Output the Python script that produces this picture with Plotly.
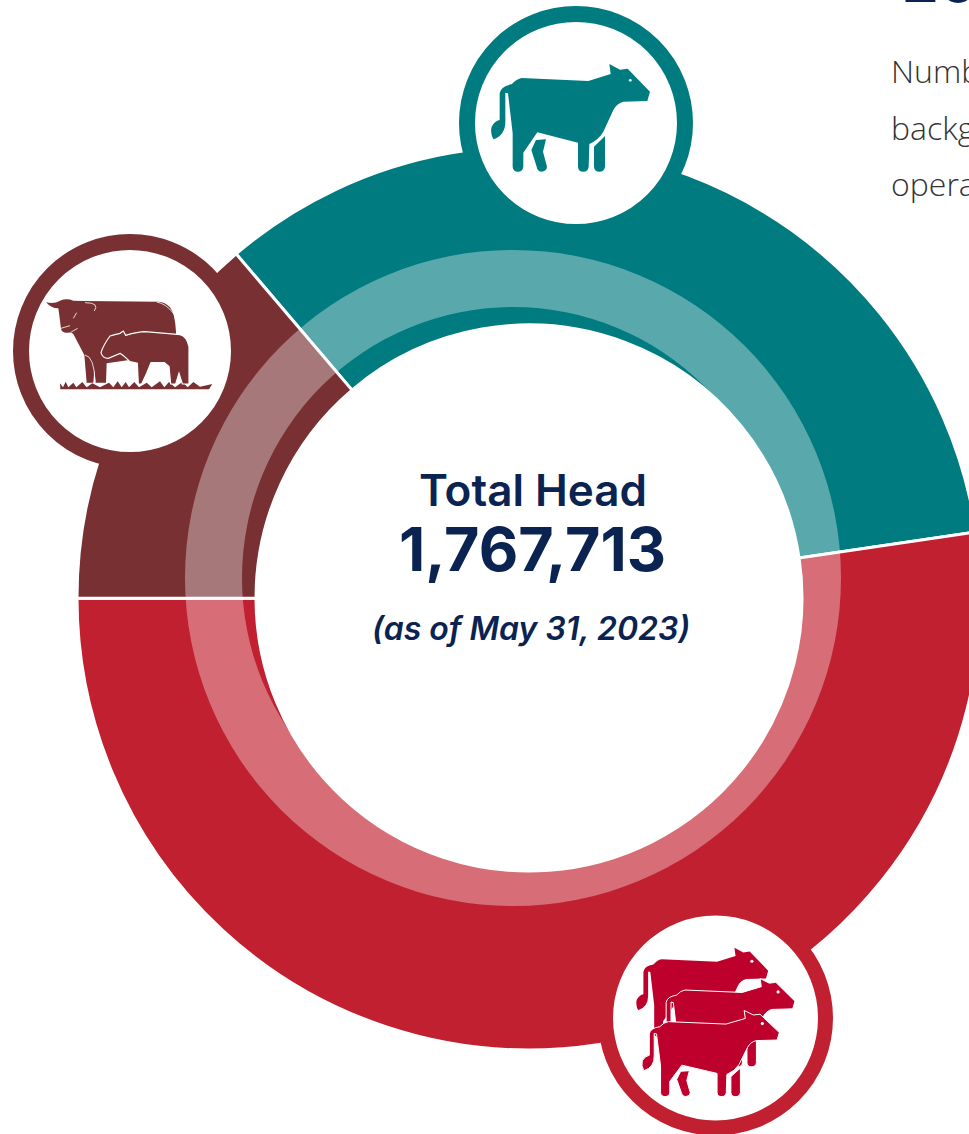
import plotly.graph_objects as go

# ---- data ----
categories = ["Stockers / feeders", "Feedlot", "Cow-calf"]
head_values = [599000, 925000, 243713]
slice_colors = ["#007B80", "#C0202F", "#783032"]
center_title = "Total Head"
center_total = "1,767,713"
center_note = "(as of May 31, 2023)"
side_lines = ["Number", "background", "operation"]
side_heading = "2023"

W, H = 982, 1134
NAVY = "#0A2351"


def px(x):
    return x / W


def py(y):
    return 1 - y / H


def dom(cx, cy, r):
    return dict(x=[px(cx - r), px(cx + r)], y=[py(cy + r), py(cy - r)])


def transform(cmds, ox, oy, sx, sy):
    """cmds are (letter, x, y, ...) in zoom pixels; converted to paper units."""
    out = []
    for c in cmds:
        letter = c[0]
        nums = c[1:]
        pts = []
        for i in range(0, len(nums), 2):
            pts.append(f"{px(ox + nums[i] * sx):.5f},{py(oy + nums[i + 1] * sy):.5f}")
        out.append(letter + " ".join(pts))
    return " ".join(out)


def icon_shape(cmds, ox, oy, sx, sy, color, line=None, lw=0):
    return dict(type="path", xref="paper", yref="paper", layer="above",
                path=transform(cmds, ox, oy, sx, sy), fillcolor=color,
                line=dict(color=line or color, width=lw))


def circle(cx, cy, r, fill, line=None, lw=0):
    return dict(type="circle", xref="paper", yref="paper", layer="above",
                x0=px(cx - r), x1=px(cx + r), y0=py(cy + r), y1=py(cy - r),
                fillcolor=fill, line=dict(color=line or fill, width=lw))


COW_BODY = [("M", 215, 234), ("L", 415, 243), ("L", 482, 222), ("L", 478, 192), ("L", 510, 209), ("L", 533, 206),
            ("L", 600, 275), ("L", 592, 303), ("L", 520, 305), ("Q", 500, 310, 490, 330), ("L", 460, 395),
            ("Q", 445, 420, 418, 432), ("L", 416, 500), ("Q", 414, 515, 400, 515), ("Q", 385, 515, 384, 500),
            ("L", 384, 428), ("L", 262, 397), ("L", 220, 458), ("L", 220, 500), ("Q", 218, 515, 204, 515),
            ("Q", 189, 515, 188, 500), ("L", 188, 400), ("L", 174, 280), ("L", 166, 278), ("L", 166, 360),
            ("Q", 168, 405, 130, 418), ("Q", 120, 400, 125, 380), ("Q", 135, 362, 149, 360), ("L", 149, 280),
            ("Q", 152, 258, 185, 253), ("Q", 200, 236, 215, 234), ("Z",)]
COW_LEG_F = [("M", 432, 440), ("L", 465, 408), ("L", 465, 500), ("Q", 463, 515, 448, 515), ("Q", 433, 515, 432, 500), ("Z",)]
COW_LEG_B = [("M", 258, 420), ("L", 288, 418), ("L", 279, 455), ("L", 291, 500), ("Q", 290, 513, 274, 515),
             ("Q", 262, 514, 260, 500), ("L", 244, 450), ("Z",)]
ADULT = [("M", 123, 217), ("Q", 150, 222, 165, 212), ("Q", 185, 204, 205, 212), ("L", 240, 213), ("L", 460, 215),
         ("Q", 480, 216, 495, 232), ("Q", 510, 250, 513, 305), ("L", 513, 370), ("L", 305, 400), ("L", 303, 458),
         ("L", 272, 458), ("L", 268, 420), ("L", 265, 458), ("L", 245, 458), ("L", 238, 375), ("L", 205, 312),
         ("Q", 198, 306, 188, 308), ("Q", 172, 310, 168, 297), ("Q", 165, 270, 160, 235), ("Q", 140, 236, 123, 217), ("Z",)]
ADULT_MARKS = [("M", 168, 295), ("L", 195, 287), ("M", 240, 218), ("Q", 285, 218, 268, 243), ("M", 455, 216),
               ("Q", 485, 222, 505, 250), ("M", 215, 248), ("L", 205, 265), ("M", 218, 295), ("L", 197, 307),
               ("M", 240, 375), ("Q", 268, 380, 270, 455)]
CALF = [("M", 288, 368), ("Q", 295, 345, 315, 318), ("Q", 335, 312, 345, 310), ("L", 355, 303), ("L", 362, 316),
        ("Q", 400, 305, 420, 305), ("L", 525, 314), ("Q", 545, 318, 552, 350), ("L", 552, 462), ("L", 532, 462),
        ("L", 522, 430), ("L", 512, 462), ("L", 497, 462), ("L", 492, 410), ("L", 478, 398), ("L", 438, 398),
        ("L", 425, 430), ("L", 410, 462), ("L", 400, 462), ("L", 397, 400), ("L", 375, 395), ("Q", 358, 378, 345, 370),
        ("L", 310, 385), ("Q", 292, 385, 288, 368), ("Z",)]
GRASS = [("M", 166, 478), ("L", 165, 460), ("L", 174, 472), ("L", 182, 455), ("L", 190, 472), ("L", 205, 458),
         ("L", 214, 472), ("L", 232, 456), ("L", 245, 472), ("L", 262, 460), ("L", 285, 472), ("L", 312, 458),
         ("L", 325, 472), ("L", 338, 454), ("L", 350, 472), ("L", 362, 456), ("L", 372, 472), ("L", 388, 456),
         ("L", 402, 472), ("L", 425, 458), ("L", 440, 472), ("L", 465, 454), ("L", 478, 472), ("L", 492, 456),
         ("L", 510, 472), ("L", 532, 456), ("L", 548, 472), ("L", 565, 456), ("L", 585, 470), ("L", 622, 462),
         ("L", 612, 478), ("Z",)]

fig = go.Figure()
fig.add_trace(go.Pie(labels=categories, values=head_values, sort=False, direction="clockwise", rotation=-40.4,
                     hole=273 / 452, domain=dom(529, 598, 452), textinfo="none", showlegend=False,
                     marker=dict(colors=slice_colors, line=dict(color="white", width=3))))
fig.add_trace(go.Pie(labels=["overlay"], values=[1], sort=False, hole=271 / 328, domain=dom(513, 578, 328),
                     textinfo="none", showlegend=False, marker=dict(colors=["rgba(255,255,255,0.35)"], line=dict(width=0))))

TEAL, RED, BROWN = slice_colors[0], slice_colors[1], slice_colors[2]
ICON_RED = "#BE002C"
shapes = [circle(529, 598, 273, "white"),
          circle(576, 123, 109, "white", TEAL, 16),
          circle(130, 351, 109, "white", BROWN, 16),
          circle(715.5, 1018, 110, "white", RED, 15)]
# teal cow
for part in (COW_BODY, COW_LEG_F, COW_LEG_B):
    shapes.append(icon_shape(part, 450, 0, 1 / 3, 1 / 3, TEAL))
shapes.append(circle(450 + 541 / 3, 241 / 3, 1.4, "white"))
# brown pair
shapes.append(icon_shape(ADULT, 5, 230, 1 / 3, 1 / 3, BROWN))
shapes.append(icon_shape(ADULT_MARKS, 5, 230, 1 / 3, 1 / 3, "rgba(0,0,0,0)", "white", 0.8))
shapes.append(icon_shape(GRASS, 5, 230, 1 / 3, 1 / 3, BROWN))
shapes.append(icon_shape(CALF, 5, 230, 1 / 3, 1 / 3, BROWN, "white", 1.2))
# red trio: positions in reference pixels
for (bx, by, k, ky, outline) in [(215, 148, .83, .83, False), (285, 240, .857, .82, True), (235, 335, .865, .80, True)]:
    ox = 590 + (bx - 215 * k) / 3
    oy = 910 + (by - 234 * ky) / 3
    sx, sy = k / 3, ky / 3
    for part in (COW_LEG_F, COW_LEG_B, COW_BODY):
        if outline or part is not COW_LEG_B:
            shapes.append(icon_shape(part, ox, oy, sx, sy, ICON_RED, "white" if outline else None, 1 if outline else 0))
    shapes.append(circle(ox + 541 * sx, oy + 241 * sy, 1.6, "white"))


def ann(text, x, y, size, anchor="center", color=NAVY, family="Inter", weight=700, style="normal"):
    return dict(text=text, x=px(x), y=py(y), xref="paper", yref="paper", xanchor=anchor, yanchor="middle",
                showarrow=False, font=dict(family=family, size=size, color=color, weight=weight, style=style))


annotations = [ann(center_title, 533, 490, 44, weight=600),
               ann(center_total, 532, 549, 61),
               ann(center_note, 531, 628, 32, style="italic", weight=600)]
for line, yy in zip(side_lines, [70, 127, 183]):
    annotations.append(ann(line, 889, yy, 32, anchor="left", color="#333333", family="Open Sans", weight=300))
annotations.append(ann(side_heading, 900, -19, 58, anchor="left", weight=700))

fig.update_layout(width=W, height=H, margin=dict(l=0, r=0, t=0, b=0), paper_bgcolor="white",
                  shapes=shapes, annotations=annotations, showlegend=False)
fig.write_html("out.html", config=dict(displayModeBar=False),
               post_script="document.documentElement.style.overflow='hidden';document.body.style.margin='0';document.body.style.overflow='hidden';")
